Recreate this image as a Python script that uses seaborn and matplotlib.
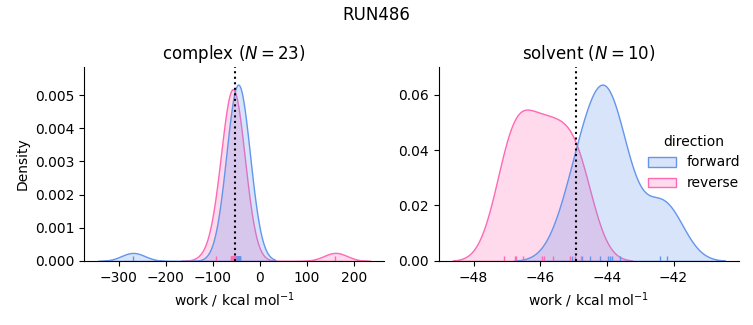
import numpy as np
import pandas as pd
import matplotlib
matplotlib.use("Agg")
import matplotlib.pyplot as plt
import seaborn as sns

run_name = "RUN486"
phases = ["complex", "solvent"]
directions = ["forward", "reverse"]
colors = ["cornflowerblue", "hotpink"]

complex_forward = [-269.0, -50.3, -49.4, -48.9, -48.3, -47.9, -47.6, -47.2, -46.8,
                   -46.5, -46.2, -45.9, -45.6, -45.2, -44.9, -44.5, -44.2, -43.9,
                   -43.5, -43.1, -42.8, -42.4, -42.1]
complex_reverse = [161.0, -93.0, -61.0, -60.2, -59.8, -59.1, -58.7, -58.4, -58.0,
                   -57.6, -57.3, -57.0, -56.6, -56.2, -55.9, -55.5, -55.0, -54.6,
                   -54.1, -53.7, -53.2, -52.6, -51.9]
complex_delta_f = -52.3

solvent_forward = [-45.04, -44.74, -44.52, -44.2, -43.98, -43.91, -43.84, -43.6,
                   -42.41, -42.2]
solvent_reverse = [-47.08, -46.77, -46.74, -46.52, -45.95, -45.89, -45.62, -45.12,
                   -44.95, -44.79]
solvent_delta_f = -44.92

works = {
    "complex": (complex_forward, complex_reverse, complex_delta_f),
    "solvent": (solvent_forward, solvent_reverse, solvent_delta_f),
}

frames = []
for phase in phases:
    fwd, rev, _ = works[phase]
    frames.append(pd.DataFrame({"work": fwd, "direction": "forward", "phase": phase}))
    frames.append(pd.DataFrame({"work": rev, "direction": "reverse", "phase": phase}))
data = pd.concat(frames, ignore_index=True)

g = sns.displot(
    data=data, x="work", hue="direction", col="phase",
    hue_order=directions, col_order=phases,
    palette=dict(zip(directions, colors)),
    kind="kde", fill=True, rug=True,
    facet_kws=dict(sharex=False, sharey=False),
    height=3.25, aspect=1.0,
)

for phase in phases:
    ax = g.axes_dict[phase]
    fwd, rev, delta_f = works[phase]
    ax.axvline(delta_f, color="k", ls=":")
    ax.set_title(f"{phase} ($N={len(fwd)}$)")
    ax.set_xlabel(r"work / kcal mol$^{-1}$")

g.axes_dict["complex"].set_ylabel("Density")
g.axes_dict["solvent"].set_ylabel("")

fig = g.figure
fig.set_size_inches(7.53, 3.25)
fig.subplots_adjust(left=0.112, right=0.981, bottom=0.197, top=0.794, wspace=0.183)
fig.suptitle(run_name)

fig.savefig("out.png", dpi=100)
